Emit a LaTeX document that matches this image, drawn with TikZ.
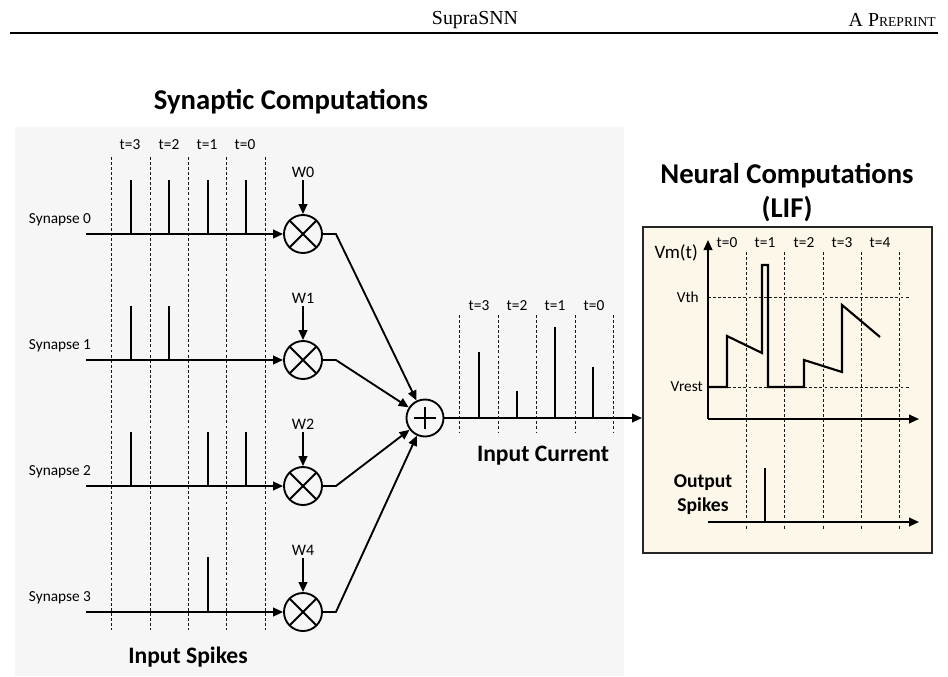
\documentclass[tikz,border=0pt]{standalone}
\usepackage{fontspec}
\setmainfont{Carlito}
\newfontfamily\hdr{Liberation Serif}
\usetikzlibrary{arrows.meta}
\definecolor{panelbg}{HTML}{F6F6F6}
\definecolor{lifbg}{HTML}{FCF7E8}
\definecolor{lifbd}{HTML}{262626}
\tikzset{
  lbl/.style={font=\fontsize{11.5}{13}\selectfont, inner sep=0pt},
  wlbl/.style={font=\fontsize{12}{14}\selectfont, inner sep=1.5pt},
  big/.style={font=\fontsize{17.7}{20}\selectfont\bfseries, inner sep=0pt},
  ttl/.style={font=\fontsize{21.5}{25.5}\selectfont\bfseries, inner sep=0pt, align=center},
  gridline/.style={dash pattern=on 2.2pt off 1.6pt, line width=0.65pt, black!90},
  spike/.style={line width=1.6pt},
  arr/.style={line width=1.4pt, -{Triangle[length=7.5pt,width=6.5pt]}},
  mult/.style={circle, draw, line width=1.4pt, minimum size=28.5pt, inner sep=0pt,
    path picture={\draw[line width=1.4pt]
      (path picture bounding box.south west) -- (path picture bounding box.north east)
      (path picture bounding box.north west) -- (path picture bounding box.south east);}},
  summ/.style={circle, draw, line width=1.4pt, minimum size=27.75pt, inner sep=0pt,
    path picture={\draw[line width=2.2pt]
      ([xshift=-8.6pt]path picture bounding box.center) -- ([xshift=8.6pt]path picture bounding box.center)
      ([yshift=-8.6pt]path picture bounding box.center) -- ([yshift=8.6pt]path picture bounding box.center);}}
}
\begin{document}
\begin{tikzpicture}[x=0.75pt,y=-0.75pt]
\useasboundingbox (0,0) rectangle (948,676);
% header
\node[font=\hdr\fontsize{14.9}{16}\selectfont, inner sep=0pt] (hd1) at (475,20) {SupraSNN};
\node[font=\hdr\fontsize{14.9}{16}\selectfont, inner sep=0pt, anchor=east] (hd2) at (936,20) {A P{\fontsize{10.2}{12}\selectfont REPRINT}};
\draw[line width=0.9pt] (10,33) -- (938,33);

% synaptic panel
\fill[panelbg] (15,127) rectangle (624,676);
\node[ttl] (stitle) at (291,102) {Synaptic Computations};

% time labels
\foreach \x/\t in {130/3,169/2,207/1,245/0}
  \node[lbl] at (\x,145) {t=\t};
\foreach \x in {111,150,188,226,265}
  \draw[gridline] (\x,157) -- (\x,630);

% multipliers and weights
\node[summ] (sum) at (425,418) {};
\foreach \i/\y/\w in {0/234/W0,1/360/W1,2/486/W2,3/612/W4}{
  \node[mult] (m\i) at (303,\y) {};
  \node[wlbl, anchor=south] (w\i) at (303,\y-54) {\w};
  \draw[arr] (w\i.south) -- (m\i.north);
  \coordinate (s\i) at (86,\y);
  \node[lbl] (sl\i) at (60,\y-14) {Synapse \i};
  \draw[arr] (s\i) -- (m\i.west);
  \draw[arr] (m\i.east) -- ++(13,0) -- (sum);
}

% input spikes
\foreach \x in {131,169,208,246} \draw[spike] (\x,234) -- (\x,180);
\foreach \x in {131,169} \draw[spike] (\x,360) -- (\x,306);
\foreach \x in {131,208,246} \draw[spike] (\x,486) -- (\x,432);
\draw[spike] (208,612) -- (208,557);
\node[big] (inspk) at (188,657) {Input Spikes};

% input current
\foreach \x/\t in {479/3,517/2,555/1,594/0}
  \node[lbl] at (\x,306) {t=\t};
\foreach \x in {459,498,536,575,613}
  \draw[gridline] (\x,315) -- (\x,432);
\foreach \x/\h in {479/352,517/391,555/327,593/367}
  \draw[spike] (\x,418) -- (\x,\h);
\node[big] (incur) at (543,456) {Input Current};

% LIF panel
\node[ttl] (ltitle) at (787,193) {Neural Computations\\(LIF)};
\node[draw=lifbd, fill=lifbg, line width=1.5pt, minimum width=216.75pt, minimum height=244.5pt, inner sep=0pt] (lif) at (787.5,390) {};
\draw[arr] (sum.east) -- (sum.east -| lif.west);

\foreach \x/\t in {727/0,765/1,804/2,842/3,880/4}
  \node[lbl] at (\x,243) {t=\t};
\foreach \x in {746,784,823,861,899}
  \draw[gridline] (\x,252) -- (\x,530);
\draw[gridline] (708,297) -- (910,297);
\draw[gridline] (708,387) -- (910,387);
\node[lbl, anchor=east] (vth) at (699,297) {Vth};
\node[lbl, anchor=east] (vrest) at (703,387) {Vrest};
\node[font=\fontsize{14.2}{16}\selectfont, inner sep=0pt, anchor=east] (vm) at (698,253) {Vm(t)};

\coordinate (o1) at (708,419);
\coordinate (yt) at (708,240);
\coordinate (xt) at (919,419);
\draw[arr] (o1) -- (yt);
\draw[arr] (o1) -- (xt);
\draw[line width=1.6pt, line join=miter] (708,387) -- (727,387) -- (727,336) -- (762,353) -- (762,265) -- (768,265) -- (768,387) -- (804,387) -- (804,360) -- (842,372) -- (842,305) -- (880,337);

\coordinate (o2) at (708,522);
\coordinate (xt2) at (919,522);
\draw[arr] (o2) -- (xt2);
\draw[spike] (765,522) -- (765,468);
\node[font=\fontsize{14.7}{18}\selectfont\bfseries, inner sep=0pt, align=center] (outspk) at (703,495) {Output\\Spikes};
\end{tikzpicture}
\end{document}
